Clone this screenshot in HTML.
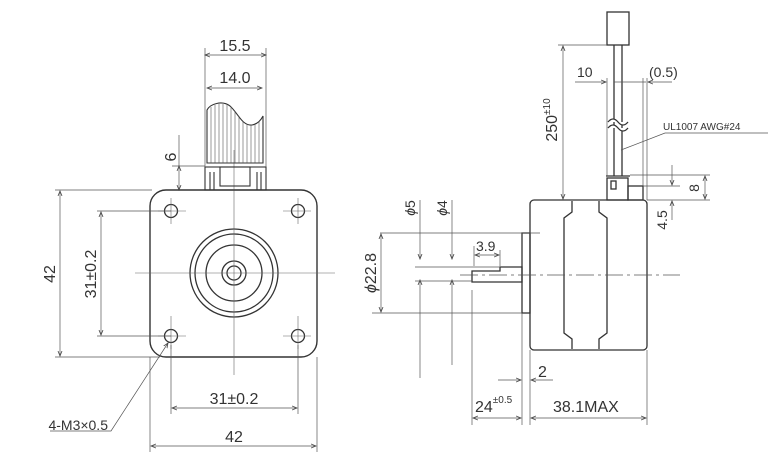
<!DOCTYPE html>
<html><head><style>
html,body{margin:0;padding:0;background:#fff;}
svg{display:block;}
text{font-family:"Liberation Sans",sans-serif;fill:#333;}
</style></head><body>
<svg width="768" height="469" viewBox="0 0 768 469" xmlns="http://www.w3.org/2000/svg">
<defs>
<marker id="a" markerWidth="6" markerHeight="6" refX="5" refY="3" orient="auto-start-reverse" markerUnits="userSpaceOnUse"><path d="M0,1 L5,3 L0,5" fill="none" stroke="#444" stroke-width="0.8"/></marker>
</defs>
<g fill="none" stroke="#555" stroke-width="0.7">
<!-- FRONT VIEW -->
<rect x="150" y="190" width="167" height="167" rx="16" stroke="#333" stroke-width="1.4"/>
<g stroke="#333" stroke-width="1.3">
<circle cx="171" cy="211" r="6.5"/><circle cx="298" cy="211" r="6.5"/>
<circle cx="171" cy="336" r="6.5"/><circle cx="298" cy="336" r="6.5"/>
<circle cx="234" cy="273" r="44"/><circle cx="234" cy="273" r="39"/><circle cx="234" cy="273" r="28"/>
<circle cx="234" cy="273" r="12"/><circle cx="234" cy="273" r="7"/>
</g>
<g stroke="#666" stroke-width="0.6">
<line x1="234" y1="150" x2="234" y2="375"/><line x1="135" y1="273" x2="335" y2="273"/>
<line x1="171" y1="198" x2="171" y2="224"/><line x1="158" y1="211" x2="186" y2="211"/>
<line x1="298" y1="198" x2="298" y2="224"/><line x1="283" y1="211" x2="311" y2="211"/>
<line x1="171" y1="316" x2="171" y2="349"/><line x1="158" y1="336" x2="186" y2="336"/>
<line x1="298" y1="316" x2="298" y2="349"/><line x1="283" y1="336" x2="311" y2="336"/>
</g>
<!-- connector -->
<g stroke="#333" stroke-width="1.1">
<rect x="205" y="167" width="61" height="23"/>
<rect x="220" y="167" width="30" height="19"/>
<line x1="210" y1="172" x2="210" y2="190"/><line x1="214" y1="172" x2="214" y2="190"/>
<line x1="257" y1="172" x2="257" y2="190"/><line x1="261" y1="172" x2="261" y2="190"/>
<path d="M207,163 L207,110 C210,104 222,100 230,106 C238,113 242,126 252,125 C258,124 261,120 263,116 L263,163 Z"/>
</g>
<g stroke="#555" stroke-width="0.6">
<line x1="211" y1="107" x2="211" y2="163"/><line x1="215" y1="105" x2="215" y2="163"/><line x1="219" y1="104" x2="219" y2="163"/>
<line x1="223" y1="104" x2="223" y2="163"/><line x1="227" y1="105" x2="227" y2="163"/><line x1="231" y1="107" x2="231" y2="163"/>
<line x1="235" y1="111" x2="235" y2="163"/><line x1="239" y1="116" x2="239" y2="163"/><line x1="243" y1="121" x2="243" y2="163"/>
<line x1="247" y1="124" x2="247" y2="163"/><line x1="251" y1="125" x2="251" y2="163"/><line x1="255" y1="124" x2="255" y2="163"/>
<line x1="259" y1="121" x2="259" y2="163"/>
</g>
<!-- front dims -->
<line x1="205" y1="48" x2="205" y2="167"/><line x1="266" y1="48" x2="266" y2="167"/>
<line x1="205" y1="55" x2="266" y2="55" marker-start="url(#a)" marker-end="url(#a)"/>
<line x1="207" y1="88" x2="262" y2="88" marker-start="url(#a)" marker-end="url(#a)"/>
<line x1="172" y1="166" x2="205" y2="166"/>
<line x1="179" y1="135" x2="179" y2="190" marker-end="url(#a)"/>
<line x1="179" y1="166" x2="179" y2="167" marker-start="url(#a)"/>
<line x1="55" y1="190" x2="152" y2="190"/><line x1="55" y1="357" x2="160" y2="357"/>
<line x1="60" y1="191" x2="60" y2="356" marker-start="url(#a)" marker-end="url(#a)"/>
<line x1="97" y1="211" x2="171" y2="211"/><line x1="97" y1="336" x2="171" y2="336"/>
<line x1="101" y1="212" x2="101" y2="335" marker-start="url(#a)" marker-end="url(#a)"/>
<line x1="171" y1="345" x2="171" y2="414"/><line x1="298" y1="345" x2="298" y2="414"/>
<line x1="172" y1="408" x2="297" y2="408" marker-start="url(#a)" marker-end="url(#a)"/>
<line x1="150" y1="357" x2="150" y2="452"/><line x1="317" y1="357" x2="317" y2="452"/>
<line x1="151" y1="446" x2="316" y2="446" marker-start="url(#a)" marker-end="url(#a)"/>
<polyline points="168,343 111,431 50,431" marker-start="url(#a)"/>

<!-- SIDE VIEW -->
<g stroke="#333" stroke-width="1.3">
<rect x="530" y="200" width="117" height="150" rx="4"/>
<rect x="522" y="233" width="8" height="80"/>
<path d="M472,282 L472,271 L500,271 L500,267 L522,267 L522,282 Z"/>
<path d="M572,201 L572,212 L564,218 L564,333 L572,339 L572,349"/>
<path d="M599,201 L599,212 L607,218 L607,333 L599,339 L599,349"/>
<rect x="607" y="178" width="21" height="22"/>
<rect x="628" y="186" width="15" height="14"/>
<rect x="611" y="181" width="5" height="8"/>
<line x1="606" y1="176" x2="630" y2="176"/>
<rect x="607" y="12" width="22" height="33"/>
<line x1="614" y1="45" x2="614" y2="176"/><line x1="622" y1="45" x2="622" y2="176"/>
</g>
<path d="M608,122 q5,-6 10,0 t10,0 M608,128 q5,-6 10,0 t10,0" stroke="#333" stroke-width="1.3" fill="#fff"/>
<line x1="460" y1="275" x2="680" y2="275" stroke-dasharray="18,4,3,4"/>
<!-- side dims -->
<line x1="558" y1="45" x2="607" y2="45"/>
<line x1="563" y1="46" x2="563" y2="199" marker-start="url(#a)" marker-end="url(#a)"/>
<line x1="607" y1="78" x2="607" y2="176"/>
<line x1="643" y1="78" x2="643" y2="186"/><line x1="647" y1="78" x2="647" y2="200"/>
<line x1="575" y1="82" x2="606" y2="82" marker-end="url(#a)"/>
<line x1="614" y1="82" x2="646" y2="82"/>
<line x1="672" y1="82" x2="648" y2="82" marker-end="url(#a)"/>
<polyline points="621,150 665,133 768,133"/>
<line x1="630" y1="175" x2="710" y2="175"/><line x1="643" y1="186" x2="680" y2="186"/>
<line x1="647" y1="200" x2="710" y2="200"/>
<line x1="705" y1="176" x2="705" y2="199" marker-start="url(#a)" marker-end="url(#a)"/>
<line x1="672" y1="165" x2="672" y2="185" marker-end="url(#a)"/>
<line x1="672" y1="220" x2="672" y2="201" marker-end="url(#a)"/>
<line x1="380" y1="233" x2="540" y2="233"/><line x1="372" y1="313" x2="522" y2="313"/>
<line x1="381" y1="234" x2="381" y2="312" marker-start="url(#a)" marker-end="url(#a)"/>
<line x1="420" y1="200" x2="420" y2="259" marker-end="url(#a)"/>
<line x1="420" y1="280" x2="420" y2="378" marker-start="url(#a)"/>
<line x1="452" y1="200" x2="452" y2="259" marker-end="url(#a)"/>
<line x1="452" y1="280" x2="452" y2="365" marker-start="url(#a)"/>
<line x1="415" y1="267" x2="500" y2="267"/><line x1="415" y1="281" x2="472" y2="281"/>
<line x1="474" y1="246" x2="474" y2="266"/><line x1="500" y1="250" x2="500" y2="266"/>
<line x1="475" y1="255" x2="499" y2="255" marker-start="url(#a)" marker-end="url(#a)"/>
<line x1="472" y1="290" x2="472" y2="425"/><line x1="522" y1="313" x2="522" y2="425"/>
<line x1="530" y1="350" x2="530" y2="425"/><line x1="647" y1="350" x2="647" y2="425"/>
<line x1="498" y1="380" x2="521" y2="380" marker-end="url(#a)"/>
<line x1="553" y1="380" x2="531" y2="380" marker-end="url(#a)"/>
<line x1="473" y1="418" x2="521" y2="418" marker-start="url(#a)" marker-end="url(#a)"/>
<line x1="531" y1="418" x2="646" y2="418" marker-start="url(#a)" marker-end="url(#a)"/>
</g>
<g font-size="16">
<text x="235" y="51" text-anchor="middle">15.5</text>
<text x="235" y="83" text-anchor="middle">14.0</text>
<text x="176" y="157" transform="rotate(-90 176 157)" text-anchor="middle">6</text>
<text x="55" y="274" transform="rotate(-90 55 274)" text-anchor="middle">42</text>
<text x="96" y="274" transform="rotate(-90 96 274)" text-anchor="middle">31±0.2</text>
<text x="234" y="404" text-anchor="middle">31±0.2</text>
<text x="234" y="442" text-anchor="middle">42</text>
<text x="108" y="430" font-size="14" text-anchor="end">4-M3×0.5</text>
<text x="577" y="77" font-size="14">10</text>
<text x="649" y="77" font-size="14">(0.5)</text>
<text x="663" y="130" font-size="10">UL1007  AWG#24</text>
<text x="557" y="120" transform="rotate(-90 557 120)" text-anchor="middle">250<tspan font-size="10" dy="-7">±10</tspan></text>
<text x="699" y="188" transform="rotate(-90 699 188)" text-anchor="middle" font-size="14">8</text>
<text x="667" y="220" transform="rotate(-90 667 220)" text-anchor="middle" font-size="14">4.5</text>
<text x="415" y="208" transform="rotate(-90 415 208)" text-anchor="middle" font-size="14"><tspan font-style="italic">ϕ</tspan>5</text>
<text x="447" y="208" transform="rotate(-90 447 208)" text-anchor="middle" font-size="14"><tspan font-style="italic">ϕ</tspan>4</text>
<text x="376" y="273" transform="rotate(-90 376 273)" text-anchor="middle"><tspan font-style="italic">ϕ</tspan>22.8</text>
<text x="476" y="251" font-size="14">3.9</text>
<text x="538" y="377">2</text>
<text x="475" y="412">24<tspan font-size="10" dy="-9">±0.5</tspan></text>
<text x="553" y="412">38.1MAX</text>
</g>
</svg>
</body></html>
